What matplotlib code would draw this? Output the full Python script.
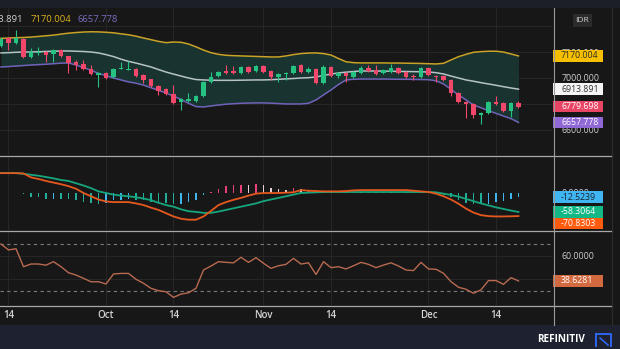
import matplotlib
matplotlib.use('Agg')
import matplotlib.pyplot as plt
from matplotlib.patches import Rectangle
from matplotlib.lines import Line2D
import numpy as np
import pandas as pd

W, H = 620, 349
plt.rcParams['font.family'] = ['Open Sans', 'DejaVu Sans']

# ---- data ----
dates = pd.bdate_range('2022-09-13', periods=70)

opens = [7246, 7308, 7270, 7300, 7162, 7193, 7200, 7185, 7216, 7169,
         7123, 7108, 7069, 7023, 7039, 7008, 7069, 7062, 7069, 7023,
         6992, 6938, 6915, 6877, 6815, 6823, 6823, 6862, 6969, 7015,
         7054, 7054, 7039, 7085, 7054, 7092, 7054, 7008, 7031, 7039,
         7100, 7046, 7069, 6962, 7085, 7015, 7039, 7008, 7039, 7077,
         7062, 7039, 7046, 7077, 7046, 7015, 7008, 7077, 7015, 7015,
         6985, 6885, 6815, 6800, 6715, 6731, 6815, 6808, 6746, 6808]
highs = [7316, 7316, 7370, 7308, 7231, 7239, 7208, 7223, 7223, 7169,
         7139, 7139, 7100, 7046, 7046, 7077, 7123, 7131, 7077, 7031,
         6992, 6946, 6923, 6946, 6846, 6885, 6869, 6977, 7046, 7054,
         7100, 7092, 7092, 7092, 7100, 7100, 7062, 7039, 7046, 7100,
         7108, 7085, 7077, 7100, 7092, 7046, 7046, 7054, 7092, 7100,
         7100, 7069, 7108, 7085, 7054, 7031, 7085, 7085, 7023, 7023,
         6992, 6892, 6823, 6808, 6738, 6823, 6862, 6815, 6815, 6823]
lows = [7239, 7216, 7262, 7154, 7154, 7177, 7123, 7123, 7162, 7039,
        7062, 7062, 7023, 6931, 6992, 7000, 7069, 7062, 7008, 6962,
        6931, 6869, 6869, 6800, 6754, 6815, 6815, 6854, 6962, 7008,
        7031, 7031, 7031, 7039, 7046, 7039, 6985, 6969, 6985, 7031,
        7039, 7039, 6954, 6954, 7008, 7000, 6969, 7000, 7031, 7046,
        7023, 7031, 7039, 7031, 7000, 6985, 7000, 7015, 6969, 6977,
        6862, 6808, 6692, 6692, 6646, 6723, 6792, 6738, 6700, 6769]
closes = [7300, 7270, 7308, 7162, 7200, 7200, 7177, 7216, 7169, 7116,
          7100, 7069, 7031, 7039, 7000, 7069, 7077, 7069, 7015, 6985,
          6938, 6900, 6877, 6808, 6838, 6838, 6862, 6969, 7008, 7046,
          7039, 7039, 7085, 7046, 7092, 7046, 7008, 7031, 7039, 7092,
          7046, 7069, 6962, 7085, 7015, 7039, 7015, 7046, 7077, 7054,
          7031, 7062, 7077, 7039, 7008, 7008, 7077, 7023, 7008, 6985,
          6885, 6815, 6800, 6715, 6731, 6815, 6800, 6746, 6808, 6779.698]

bb_upper = [7305, 7308, 7310, 7312, 7315, 7320, 7325, 7330, 7338, 7345,
            7350, 7354, 7356, 7355, 7352, 7348, 7340, 7333, 7322, 7308,
            7295, 7282, 7272, 7277, 7275, 7262, 7240, 7215, 7195, 7182,
            7175, 7172, 7170, 7168, 7166, 7164, 7162, 7162, 7170, 7180,
            7188, 7192, 7193, 7188, 7177, 7150, 7125, 7118, 7116, 7116,
            7116, 7116, 7115, 7115, 7114, 7113, 7112, 7110, 7108, 7113,
            7139, 7164, 7182, 7198, 7203, 7206, 7206, 7200, 7185, 7170.004]
bb_mid = [7193, 7195, 7198, 7200, 7200, 7202, 7204, 7206, 7208, 7208,
          7206, 7204, 7200, 7193, 7180, 7165, 7145, 7128, 7115, 7100,
          7085, 7065, 7046, 7030, 7015, 7000, 6988, 6985, 6983, 6982,
          6982, 6982, 6983, 6984, 6985, 6985, 6987, 6990, 6993, 6996,
          7000, 7002, 7008, 7020, 7030, 7039, 7045, 7050, 7054, 7054,
          7054, 7053, 7052, 7051, 7050, 7049, 7048, 7046, 7041, 7031,
          7015, 7000, 6985, 6975, 6964, 6954, 6944, 6933, 6923, 6913.891]
bb_lower = [7085, 7088, 7092, 7096, 7100, 7103, 7106, 7110, 7114, 7116,
            7100, 7080, 7060, 7035, 7018, 7000, 6985, 6970, 6960, 6945,
            6925, 6905, 6885, 6860, 6835, 6805, 6780, 6777, 6785, 6792,
            6798, 6802, 6805, 6807, 6808, 6808, 6806, 6803, 6800, 6800,
            6800, 6805, 6831, 6870, 6908, 6950, 6985, 6990, 6992, 6992,
            6992, 6992, 6991, 6990, 6990, 6989, 6988, 6987, 6979, 6954,
            6913, 6869, 6831, 6792, 6771, 6748, 6728, 6707, 6687, 6657.778]

macd = [61, 61, 61, 60, 48, 43, 37, 32, 27, 21,
        13, 0, -10, -20, -26, -28, -28, -28, -32, -37,
        -45, -52, -62, -72, -79, -82, -82, -72, -55, -37,
        -28, -21, -15, -8, -2, 0, 0, 0, 1, 2,
        9, 7, 6, 5, 5, 5, 6, 8, 9, 9,
        9, 9, 9, 9, 9, 7, 5, 3, -2, -10,
        -20, -33, -48, -60, -68, -71, -72, -72, -71.5, -70.8303]
signal = [61, 61, 61, 59, 56, 53, 49, 45, 40, 37,
          30, 23, 15, 5, 0, -5, -8, -10, -13, -17,
          -22, -30, -37, -42, -50, -56, -58, -61, -61, -57,
          -52, -47, -42, -37, -32, -25, -20, -15, -10, -5,
          0, 1, 2, 3, 3, 3, 3, 3, 3, 3,
          3, 3, 3, 3, 3, 3, 3, 3, 2, -2,
          -6, -11, -18, -25, -32, -38, -44, -49, -54, -58.3064]
hist = [0, 1, 1, -2, -12, -12, -18, -17, -17, -18,
        -22, -27, -32, -35, -31, -22, -20, -17, -20, -21,
        -27, -28, -31, -34, -33, -27, -22, -7, 3, 13,
        20, 24, 26, 26, 28, 24, 16, 13, 10, 16,
        13, 10, 6, 5, 4, 4, 4, 4, 4, 4,
        3, 3, 3, 3, 3, 3, 2, 1, -2, -7,
        -12, -22, -31, -33, -34, -33, -27, -24, -17, -12.5239]

rsi = [70, 65, 66, 50.7, 53, 53, 52, 55, 50.7, 45.6,
       43.6, 40.8, 37.9, 37.9, 36, 44.5, 45, 45, 40, 36.6,
       32.3, 30.3, 29.4, 24.6, 27.4, 28.5, 32.3, 47.9, 51.3, 55,
       54.4, 54, 58.7, 54.4, 58.4, 53.6, 49.3, 51.5, 52.7, 57.8,
       53, 54, 44.1, 55, 49.9, 50.7, 48.8, 51.5, 54.4, 52.7,
       49.9, 52.1, 54, 51.3, 47.9, 47.4, 54.4, 48.8, 48.5, 45.1,
       38, 33.2, 31.5, 28.1, 31, 38.9, 38.9, 35.7, 41.4, 38.6281]

price_ticks = [6600, 6800, 7000, 7200, 7400]
price_tick_labels = ['6600.000', '', '7000.000', '7200.000', '']
rsi_ticks = [40, 60]

# ---- helpers ----
BG = '#171717'
GRID = '#262626'


def fx(px):
    return px / W


def fy(py):
    return 1 - py / H


def axrect(x0, y0, x1, y1):
    return [fx(x0), fy(y1), (x1 - x0) / W, (y1 - y0) / H]


fig = plt.figure(figsize=(W / 100, H / 100), dpi=100, facecolor=BG)
fig.add_artist(Rectangle((0, fy(8)), 1, 8 / H, transform=fig.transFigure,
                         fc='#1c1f26', ec='none', zorder=0))
fig.add_artist(Rectangle((0, 0), 1, 24 / H, transform=fig.transFigure,
                         fc='#1e2230', ec='none', zorder=0))

ax_p = fig.add_axes(axrect(0, 8, 553, 155))
ax_m = fig.add_axes(axrect(0, 156, 553, 230))
ax_r = fig.add_axes(axrect(0, 231, 553, 305))

x = np.arange(len(dates))
tick_pos, tick_lab = [], []
for i, d in enumerate(dates):
    if i > 0 and d.month != dates[i - 1].month:
        tick_pos.append(i)
        tick_lab.append(d.strftime('%b'))
    elif d.day == 14:
        tick_pos.append(i)
        tick_lab.append('14')

for ax in (ax_p, ax_m, ax_r):
    ax.set_facecolor(BG)
    for s in ax.spines.values():
        s.set_visible(False)
    ax.set_xlim(-0.133, 73.6)
    ax.set_xticks(tick_pos)
    ax.grid(axis='x', color=GRID, lw=0.8)
    ax.set_axisbelow(True)
    ax.yaxis.tick_right()
    ax.tick_params(axis='y', length=0, pad=5.8, labelsize=6.3, labelcolor='#cfcfcf')

# ---- price panel ----
o = np.array(opens); c = np.array(closes)
cols = np.where(c >= o, '#26c281', '#f0476a')
ax_p.fill_between(x, bb_lower, bb_upper, color='#193430', lw=0, zorder=1)
ax_p.plot(x, bb_upper, color='#c9a227', lw=1.1, zorder=2)
ax_p.plot(x, bb_mid, color='#b5c2c6', lw=1.1, zorder=2)
ax_p.plot(x, bb_lower, color='#6f62b8', lw=1.1, zorder=2)
ax_p.vlines(x, lows, highs, color=cols, lw=0.8, zorder=3)
ax_p.bar(x, np.maximum(np.abs(c - o), 8), bottom=np.minimum(o, c),
         width=0.64, color=cols, zorder=4)
ax_p.set_ylim(6407, 7539)
ax_p.set_yticks(price_ticks)
ax_p.set_yticklabels(price_tick_labels)
ax_p.grid(axis='y', color=GRID, lw=0.8)
ax_p.tick_params(axis='x', length=0, labelbottom=False)

# ---- MACD panel ----
hcols = []
for k, v in enumerate(hist):
    prev = hist[k - 1] if k else v
    if v >= 0:
        hcols.append('#e8407a' if v > prev else '#e6cfd2')
    else:
        hcols.append('#3fb5ee' if v > prev else '#22ad98')
ax_m.bar(x, hist, width=0.24, color=hcols, zorder=2)
ax_m.plot(x, signal, color='#16a67d', lw=1.3, zorder=3)
ax_m.plot(x, macd, color='#e5581e', lw=1.3, zorder=4)
ax_m.set_ylim(-113.6, 113.6)
ax_m.set_yticks([0])
ax_m.set_yticklabels(['0.0000'])
ax_m.tick_params(axis='x', length=0, labelbottom=False)

# ---- RSI panel ----
ax_r.plot(x, rsi, color='#b86a50', lw=1.0, zorder=3)
ax_r.axhline(70, color='#7a7a7a', lw=0.8, dashes=(3, 3))
ax_r.axhline(30, color='#7a7a7a', lw=0.8, dashes=(3, 3))
ax_r.set_ylim(18.1, 81.1)
ax_r.set_yticks(rsi_ticks)
ax_r.set_yticklabels(['', '60.0000'])
ax_r.grid(axis='y', color=GRID, lw=0.8)
ax_r.set_xticklabels(tick_lab)
ax_r.tick_params(axis='x', length=0, pad=3.5, labelsize=7, labelcolor='#d4d4d4')
for lbl in ax_r.get_xticklabels():
    lbl.set_fontweight('semibold')


# ---- last-value boxes on the right scale ----
def right_boxes(ax, items, h=11.5):
    pts = []
    for v, t, fc, tc in items:
        yp = H - ax.transData.transform((0, v))[1]
        pts.append([yp, t, fc, tc])
    pts.sort(key=lambda p: p[0])
    for k in range(1, len(pts)):
        if pts[k][0] - pts[k - 1][0] < h:
            pts[k][0] = pts[k - 1][0] + h
    for yp, t, fc, tc in pts:
        fig.add_artist(Rectangle((fx(553), fy(yp + h / 2)), 50 / W, h / H,
                                 transform=fig.transFigure, fc=fc, ec='none', zorder=5))
        fig.text(fx(561), fy(yp), t, ha='left', va='center', fontsize=6.3,
                 color=tc, zorder=6)


right_boxes(ax_p, [(bb_upper[-1], f'{bb_upper[-1]:.3f}', '#f6c000', '#2a2a2a'),
                   (bb_mid[-1], f'{bb_mid[-1]:.3f}', '#f5f5f5', '#333333'),
                   (closes[-1], f'{closes[-1]:.3f}', '#e84565', 'white'),
                   (bb_lower[-1], f'{bb_lower[-1]:.3f}', '#8f68d6', 'white')])
right_boxes(ax_m, [(hist[-1], f'{hist[-1]:.4f}', '#3fb6f2', '#1a2230'),
                   (signal[-1], f'{signal[-1]:.4f}', '#12b886', 'white'),
                   (macd[-1], f'{macd[-1]:.4f}', '#ff5b0f', 'white')])
right_boxes(ax_r, [(rsi[-1], f'{rsi[-1]:.4f}', '#d2693f', 'white')])

# ---- separators ----
for yy in (155.5, 230.5, 305.5):
    fig.add_artist(Line2D([0, fx(612)], [fy(yy), fy(yy)], transform=fig.transFigure,
                          color='#a8a8a8', lw=0.9, zorder=7))
fig.add_artist(Line2D([fx(553.5), fx(553.5)], [fy(8), fy(325)], transform=fig.transFigure,
                      color='#9a9a9a', lw=0.8, zorder=7))
fig.add_artist(Line2D([fx(612), fx(612)], [fy(8), fy(325)], transform=fig.transFigure,
                      color='#2e2e2e', lw=0.8, zorder=7))

# ---- legend values at the top (first one runs off the left edge, as in the source) ----
fig.text(fx(23), fy(20), f'{bb_mid[-1]:.3f}', ha='right', va='center', fontsize=6.8, color='#d0d0d0')
fig.text(fx(31), fy(20), f'{bb_upper[-1]:.3f}', ha='left', va='center', fontsize=6.8, color='#d9b21c')
fig.text(fx(77), fy(20), f'{bb_lower[-1]:.3f}', ha='left', va='center', fontsize=6.8, color='#7b6cc0')

# currency tag
fig.add_artist(Rectangle((fx(573), fy(27)), 19 / W, 13 / H, transform=fig.transFigure,
                         fc='#2b2b2b', ec='none', zorder=5))
fig.text(fx(582.5), fy(20.5), 'IDR', ha='center', va='center', fontsize=6, color='#cfcfcf', zorder=6)

# footer brand
fig.text(fx(561), fy(340), 'REFINITIV', ha='center', va='center', fontsize=7.2,
         fontweight='bold', color='white')
fig.add_artist(Line2D([fx(596), fx(611), fx(611)], [fy(334), fy(334), fy(346)],
                      transform=fig.transFigure, color='#2f6bff', lw=1.3))
fig.add_artist(Line2D([fx(596), fx(596)], [fy(334), fy(346)],
                      transform=fig.transFigure, color='#2f6bff', lw=1.3))
fig.add_artist(Line2D([fx(600), fx(608)], [fy(338), fy(345)],
                      transform=fig.transFigure, color='#2f6bff', lw=1.1))

fig.savefig('out.png', dpi=100, facecolor=BG)
